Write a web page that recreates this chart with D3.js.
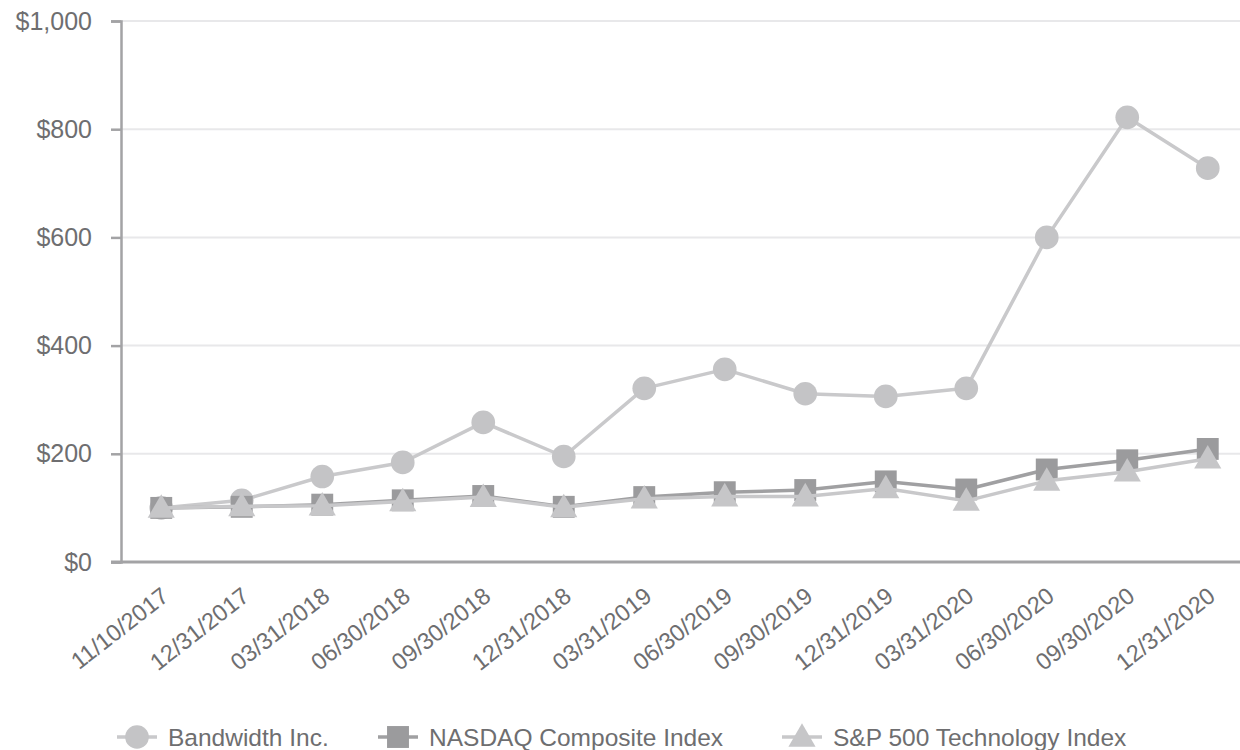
<!DOCTYPE html>
<html>
<head>
<meta charset="utf-8">
<script src="https://cdn.jsdelivr.net/npm/d3@7"></script>
<style>
  body { margin: 0; background: #fff; }
  svg { display: block; font-family: "Liberation Sans", Arial, sans-serif; }
</style>
</head>
<body>
<div id="chart"></div>
<script>
const dates = ['11/10/2017', '12/31/2017', '03/31/2018', '06/30/2018', '09/30/2018', '12/31/2018',
  '03/31/2019', '06/30/2019', '09/30/2019', '12/31/2019', '03/31/2020', '06/30/2020', '09/30/2020', '12/31/2020'];

const bandwidth = [100, 114, 158, 184, 258, 195, 321, 356, 311, 306, 321, 600, 822, 728];
const nasdaq = [100, 102, 106, 114, 122, 102, 120, 129, 133, 149, 134, 171, 188, 209];
const sp500tech = [100, 103, 104, 112, 120, 101, 117, 121, 121, 136, 113, 150, 167, 191];

const yTicks = [0, 200, 400, 600, 800, 1000];

const seriesNames = ['Bandwidth Inc.', 'NASDAQ Composite Index', 'S&P 500 Technology Index'];

const width = 1240, height = 750;
const margin = { top: 21, right: -8, bottom: 188, left: 121 };
const textColor = '#6e6e70';

const svg = d3.select('#chart').append('svg')
  .attr('width', width)
  .attr('height', height);

const x = d3.scalePoint()
  .domain(dates)
  .range([margin.left, width - margin.right])
  .padding(0.5);

const y = d3.scaleLinear()
  .domain([0, 1000])
  .range([height - margin.bottom, margin.top]);

// gridlines
svg.append('g')
  .selectAll('line')
  .data(yTicks.filter(d => d > 0))
  .join('line')
  .attr('x1', margin.left)
  .attr('x2', width)
  .attr('y1', d => y(d))
  .attr('y2', d => y(d))
  .attr('stroke', '#e8e8ea')
  .attr('stroke-width', 2);

// y axis
const yAxis = svg.append('g')
  .attr('transform', `translate(${margin.left},0)`)
  .call(d3.axisLeft(y).tickValues(yTicks).tickSize(10).tickPadding(19)
    .tickFormat(d => '$' + d3.format(',')(d)));
yAxis.select('.domain').attr('stroke', '#a3a3a5').attr('stroke-width', 2.5);
yAxis.selectAll('.tick line').attr('stroke', '#a3a3a5').attr('stroke-width', 2.5);
yAxis.selectAll('.tick text')
  .attr('fill', textColor)
  .attr('font-size', 25)
  .attr('font-family', '"Liberation Sans", Arial, sans-serif');

// x axis line
svg.append('line')
  .attr('x1', margin.left - 10)
  .attr('x2', width)
  .attr('y1', y(0))
  .attr('y2', y(0))
  .attr('stroke', '#a3a3a5')
  .attr('stroke-width', 3);

// x labels
svg.append('g')
  .selectAll('text')
  .data(dates)
  .join('text')
  .attr('transform', d => `translate(${x(d) + 9},${y(0) + 37}) rotate(-38)`)
  .attr('text-anchor', 'end')
  .attr('font-size', 23.5)
  .attr('fill', textColor)
  .text(d => d);

const symbolFor = {
  circle: d3.symbol().type(d3.symbolCircle).size(440),
  square: d3.symbol().type(d3.symbolSquare).size(480),
  triangle: d3.symbol().type(d3.symbolTriangle).size(320)
};

const series = [
  { name: seriesNames[0], values: bandwidth, line: '#c9c9cb', fill: '#c4c4c6', shape: 'circle' },
  { name: seriesNames[1], values: nasdaq, line: '#a0a0a2', fill: '#9b9b9d', shape: 'square' },
  { name: seriesNames[2], values: sp500tech, line: '#c8c8ca', fill: '#c6c6c8', shape: 'triangle' }
];

const line = d3.line()
  .x((d, i) => x(dates[i]))
  .y(d => y(d));

series.forEach(s => {
  const g = svg.append('g');
  g.append('path')
    .datum(s.values)
    .attr('d', line)
    .attr('fill', 'none')
    .attr('stroke', s.line)
    .attr('stroke-width', 3.5)
    .attr('stroke-linejoin', 'round');
  g.selectAll('path.marker')
    .data(s.values)
    .join('path')
    .attr('class', 'marker')
    .attr('transform', (d, i) => `translate(${x(dates[i])},${y(d) + (s.shape === 'triangle' ? 2 : 0)})`)
    .attr('d', symbolFor[s.shape])
    .attr('fill', s.fill);
});

// legend
const legendY = 737;
const legendX = [117, 378, 782];
const legend = svg.append('g');
series.forEach((s, i) => {
  const g = legend.append('g').attr('transform', `translate(${legendX[i]},${legendY})`);
  g.append('line')
    .attr('x1', 0).attr('x2', 40)
    .attr('stroke', s.line)
    .attr('stroke-width', 3.5);
  g.append('path')
    .attr('transform', `translate(20,${s.shape === 'triangle' ? 2 : 0})`)
    .attr('d', symbolFor[s.shape])
    .attr('fill', s.fill);
  g.append('text')
    .attr('x', 51)
    .attr('dy', '0.35em')
    .attr('font-size', 24.5)
    .attr('fill', textColor)
    .text(s.name);
});
</script>
</body>
</html>
